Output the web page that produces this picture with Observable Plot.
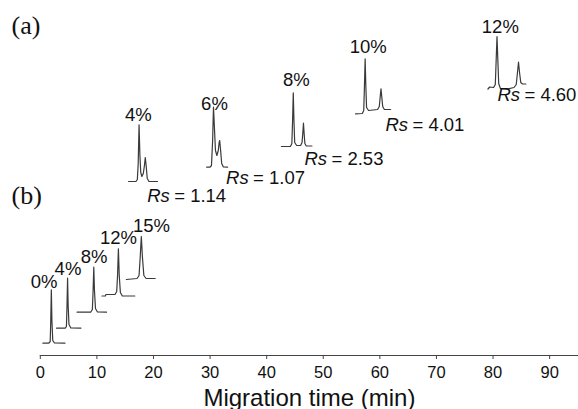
<!DOCTYPE html>
<html>
<head>
<meta charset="utf-8">
<script src="https://cdn.jsdelivr.net/npm/d3@7"></script>
<script src="https://cdn.jsdelivr.net/npm/@observablehq/plot@0.6"></script>
<style>
  html, body { margin: 0; padding: 0; background: #fff; }
  #chart svg { display: block; font-family: "Liberation Sans", Arial, sans-serif; }
</style>
</head>
<body>
<div id="chart"></div>
<script>
// Migration time (min) vs. stacked signal (vertical offsets)
// (a) traces
const traceA4  = [[15.6,174],[16.9,174],[17.15,176],[17.3,192],[17.45,230.7],[17.6,200],[17.75,183],[17.95,179],[18.2,182],[18.4,190],[18.55,198],[18.7,190],[18.9,177],[19.2,174],[20.7,174]];
const traceA6  = [[29.4,188.3],[30.0,188.3],[30.25,190],[30.45,215],[30.6,248.3],[30.75,230],[30.95,205],[31.2,200],[31.45,205],[31.6,213],[31.7,215],[31.85,206],[32.05,192],[32.35,188.5],[33.1,188.3]];
const traceA8  = [[42.6,209],[44.2,209],[44.45,212],[44.58,235],[44.7,262.7],[44.82,235],[44.95,213],[45.3,210],[46.0,210],[46.25,213],[46.38,222],[46.5,232.3],[46.62,222],[46.75,212],[47.0,209.5],[48.0,209.5]];
const traceA10 = [[55.7,241.7],[56.9,242],[57.15,245],[57.28,270],[57.4,296.7],[57.52,270],[57.65,248],[58.0,245],[59.6,246],[59.9,249],[60.05,258],[60.2,266.7],[60.35,258],[60.5,249],[60.8,246],[61.9,246]];
const traceA12 = [[79.1,266.5],[79.4,268.5],[80.1,268],[80.4,271],[80.55,295],[80.7,319],[80.85,295],[81.0,272],[81.3,267],[82.5,266.5],[83.7,268],[84.1,271],[84.3,282],[84.5,293.3],[84.7,282],[84.9,273],[85.2,271.5],[85.8,271.5]];
// (b) traces
const traceB0  = [[0.46,12.3],[1.5,12.3],[1.75,14],[1.85,35],[1.95,65.7],[2.05,35],[2.2,15],[2.5,12.5],[4.36,12.3]];
const traceB4  = [[2.87,27.3],[4.4,27.3],[4.62,29],[4.72,50],[4.82,77.3],[4.92,50],[5.07,31],[5.4,27.5],[7.17,27.3]];
const traceB8  = [[6.5,43.3],[8.9,43.3],[9.2,46],[9.33,65],[9.45,88.3],[9.57,65],[9.75,47],[10.1,43.5],[11.7,43.3]];
const traceB12 = [[10.9,59.5],[11.5,59.5],[11.6,61],[13.2,61],[13.5,64],[13.65,80],[13.8,106.7],[13.95,80],[14.15,63],[14.5,59.5],[16.7,59.5]];
const traceB15 = [[15.2,76],[17.1,77],[17.45,80],[17.65,98],[17.85,119],[18.05,98],[18.3,80],[18.7,77],[20.3,77]];

// percentage labels
const pctLabelsA = ["4%","6%","8%","10%","12%"];
const pctXA = [17.31, 30.78, 45.26, 57.95, 81.29];
const pctYA = [235, 246, 270, 303, 323];
const pctLabelsB = ["0%","4%","8%","12%","15%"];
const pctXB = [0.69, 4.89, 9.5, 13.82, 19.65];
const pctYB = [68, 81, 93, 112, 124];

// resolution labels
const rsValues = ["1.14","1.07","2.53","4.01","4.60"];
const rsX = [18.89, 32.83, 46.68, 60.99, 80.78];
const rsY = [153.3, 172, 191, 224.3, 254.3];

// panel labels
const panelLabels = ["(a)","(b)"];
const panelX = [-5.09, -5.09];
const panelY = [321.5, 151.5];

const xTicks = [0,10,20,30,40,50,60,70,80,90];
const xDomain = [0, 95.1];
const xTitle = "Migration time (min)";

const traces = [
  ["a4",traceA4],["a6",traceA6],["a8",traceA8],["a10",traceA10],["a12",traceA12],
  ["b0",traceB0],["b4",traceB4],["b8",traceB8],["b12",traceB12],["b15",traceB15]
];
const lineData = traces.flatMap(([id, pts]) => pts.map(([t, s]) => ({id, t, s})));
const pctData = [
  ...pctLabelsA.map((label, i) => ({label, t: pctXA[i], s: pctYA[i]})),
  ...pctLabelsB.map((label, i) => ({label, t: pctXB[i], s: pctYB[i]}))
];
const rsData = rsValues.map((v, i) => ({v, t: rsX[i], s: rsY[i]}));
const panelData = panelLabels.map((label, i) => ({label, t: panelX[i], s: panelY[i]}));

const chart = Plot.plot({
  width: 578,
  height: 409,
  marginLeft: 39.8,
  marginRight: 0,
  marginTop: 0,
  marginBottom: 54,
  x: {domain: xDomain},
  y: {domain: [0, 355], axis: null},
  marks: [
    Plot.ruleY([0], {stroke: "#444", strokeWidth: 1}),
    Plot.axisX({ticks: xTicks, tickSize: 4, tickPadding: 7, fontSize: 16.5, label: null, stroke: "#444", fill: "#111"}),
    Plot.text([xTitle], {frameAnchor: "bottom", dy: 50, lineAnchor: "bottom", fontSize: 24, fill: "#111"}),
    Plot.line(lineData, {x: "t", y: "s", z: "id", stroke: "#3a3a3a", strokeWidth: 1.2, curve: "linear"}),
    Plot.text(pctData, {x: "t", y: "s", text: "label", lineAnchor: "bottom", fontSize: 18.5, fill: "#111"}),
    Plot.text(rsData, {x: "t", y: "s", text: () => "Rs", lineAnchor: "bottom", textAnchor: "start", fontSize: 18.5, fontStyle: "italic", fill: "#111"}),
    Plot.text(rsData, {x: "t", y: "s", text: d => "= " + d.v, lineAnchor: "bottom", textAnchor: "start", dx: 27, fontSize: 18.5, fill: "#111"}),
    Plot.text(panelData, {x: "t", y: "s", text: "label", lineAnchor: "bottom", textAnchor: "start", fontSize: 26, fontFamily: "Liberation Serif, Times New Roman, serif", fill: "#111"})
  ]
});
document.getElementById("chart").appendChild(chart);
</script>
</body>
</html>
